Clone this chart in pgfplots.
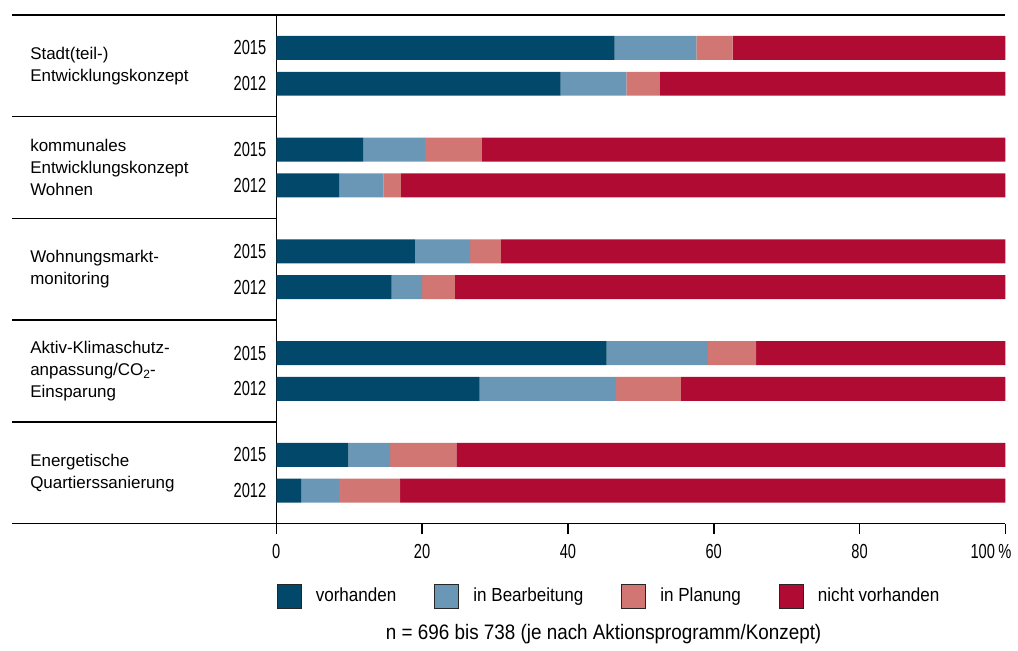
\documentclass[border=0pt]{standalone}
\usepackage{fontspec}
\setmainfont{Liberation Sans}
\newfontfamily\cond[FakeStretch=0.9]{Liberation Sans}
\newfontfamily\digits[FakeStretch=0.72]{Liberation Sans}
\usepackage{pgfplots}
\pgfplotsset{compat=1.18}
\usepackage{pgfplotstable}

\definecolor{cVor}{HTML}{02486A}
\definecolor{cBea}{HTML}{6A97B6}
\definecolor{cPla}{HTML}{D17673}
\definecolor{cNic}{HTML}{AF0B33}

\pgfplotstableread{
pos   v    b    p    n
0.324 46.4 11.2 5.0 37.4
0.676 39.0 9.0  4.6 47.4
1.324 11.9 8.5  7.8 71.8
1.676 8.6  6.1  2.4 82.9
2.324 19.0 7.6  4.2 69.2
2.676 15.8 4.2  4.5 75.5
3.324 45.3 13.9 6.6 34.2
3.676 27.9 18.7 8.9 44.5
4.324 9.9  5.7  9.1 75.3
4.676 3.4  5.2  8.4 83.0
}\datatable

\begin{document}
\begin{tikzpicture}
\begin{axis}[
  scale only axis,
  width=365.5pt, height=255pt,
  xbar stacked, bar width=0.235,
  xmin=0, xmax=100, ymin=0, ymax=5, y dir=reverse,
  axis x line=bottom, axis y line=left,
  axis line style={-, line width=0.8pt},
  tick align=outside, major tick length=5pt,
  xtick={0,20,40,60,80,100},
  xticklabels={0,20,40,60,80,\makebox[6pt][r]{100\,\%}},
  xticklabel style={yshift=-2pt},
  ytick={0.324,0.676,1.324,1.676,2.324,2.676,3.324,3.676,4.324,4.676},
  yticklabels={2015,2012,2015,2012,2015,2012,2015,2012,2015,2012},
  yticklabel style={xshift=3.5pt},
  ytick style={draw=none},
  xtick style={black, line width=0.8pt},
  tick label style={font=\digits\fontsize{10.2}{12}\selectfont},
  clip=false,
  legend columns=4,
  legend style={at={(0,-0.143)}, anchor=west, draw=none, inner sep=0pt,
    font=\cond\fontsize{9.5}{11}\selectfont,
    /tikz/every even column/.append style={column sep=17pt},
    /tikz/every odd column/.append style={column sep=5pt}},
  legend cell align=left,
]
\addplot[fill=cVor, draw=none, forget plot] table[x=v, y=pos] {\datatable};
\addplot[fill=cBea, draw=none, forget plot] table[x=b, y=pos] {\datatable};
\addplot[fill=cPla, draw=none, forget plot] table[x=p, y=pos] {\datatable};
\addplot[fill=cNic, draw=none, forget plot] table[x=n, y=pos] {\datatable};

\addlegendimage{legend image code/.code={\draw[fill=cVor,draw=black!85,line width=0.6pt] (0pt,-6pt) rectangle (12pt,6pt);}}
\addlegendentry{vorhanden}
\addlegendimage{legend image code/.code={\draw[fill=cBea,draw=black!85,line width=0.6pt] (0pt,-6pt) rectangle (12pt,6pt);}}
\addlegendentry{in Bearbeitung}
\addlegendimage{legend image code/.code={\draw[fill=cPla,draw=black!85,line width=0.6pt] (0pt,-6pt) rectangle (12pt,6pt);}}
\addlegendentry{in Planung}
\addlegendimage{legend image code/.code={\draw[fill=cNic,draw=black!85,line width=0.6pt] (0pt,-6pt) rectangle (12pt,6pt);}}
\addlegendentry{nicht vorhanden}

\draw[line width=0.8pt] (axis cs:-36.25,0) -- (axis cs:100,0);
\draw[line width=0.8pt] (axis cs:-36.25,1) -- (axis cs:0,1);
\draw[line width=0.8pt] (axis cs:-36.25,2) -- (axis cs:0,2);
\draw[line width=0.8pt] (axis cs:-36.25,3) -- (axis cs:0,3);
\draw[line width=0.8pt] (axis cs:-36.25,4) -- (axis cs:0,4);
\draw[line width=0.8pt] (axis cs:-36.25,5) -- (axis cs:0,5);

\node[anchor=west, align=left, inner sep=0pt, font=\fontsize{8.5}{11}\selectfont] at (axis cs:-33.8,0.5) {Stadt(teil-)\\Entwicklungskonzept};
\node[anchor=west, align=left, inner sep=0pt, font=\fontsize{8.5}{11}\selectfont] at (axis cs:-33.8,1.5) {kommunales\\Entwicklungskonzept\\Wohnen};
\node[anchor=west, align=left, inner sep=0pt, font=\fontsize{8.5}{11}\selectfont] at (axis cs:-33.8,2.5) {Wohnungsmarkt-\\monitoring};
\node[anchor=west, align=left, inner sep=0pt, font=\fontsize{8.5}{11}\selectfont] at (axis cs:-33.8,3.5) {Aktiv-Klimaschutz-\\anpassung/CO\raisebox{-0.4ex}{\fontsize{6}{6}\selectfont 2}-\\Einsparung};
\node[anchor=west, align=left, inner sep=0pt, font=\fontsize{8.5}{11}\selectfont] at (axis cs:-33.8,4.5) {Energetische\\Quartierssanierung};

\node[font=\cond\fontsize{10.5}{12}\selectfont] at (axis cs:44.9,6.09)
  {n = 696 bis 738 (je nach Aktionsprogramm/Konzept)};

\path (axis cs:-37.9,-0.147) rectangle (axis cs:101.37,6.186);
\end{axis}
\end{tikzpicture}
\end{document}
